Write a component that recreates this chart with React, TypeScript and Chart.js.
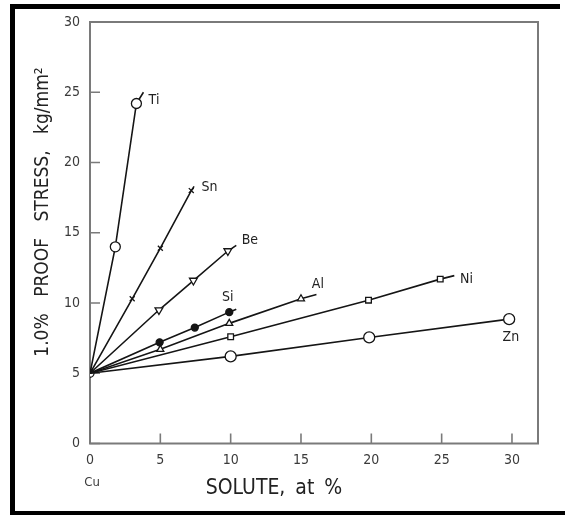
import React, { useEffect, useRef } from 'react';
import { Chart, registerables } from 'chart.js';

Chart.register(...registerables);

// ---- data ----
const xTickValues = [0, 5, 10, 15, 20, 25, 30];
const yTickValues = [0, 5, 10, 15, 20, 25, 30];

const origin = { x: 0, y: 5 }; // pure Cu

const tiX = [1.8, 3.3];
const tiY = [14.0, 24.2];
const tiTail = [3.8, 25.0];

const snX = [3.0, 5.0, 7.2];
const snY = [10.3, 13.9, 18.0];
const snTail = [7.4, 18.3];

const beX = [4.9, 7.35, 9.8];
const beY = [9.5, 11.6, 13.7];
const beTail = [10.4, 14.1];

const siX = [4.95, 7.45, 9.9];
const siY = [7.2, 8.25, 9.35];
const siTail = [10.4, 9.55];

const alX = [5.0, 9.9, 15.0];
const alY = [6.7, 8.55, 10.3];
const alTail = [16.1, 10.6];

const niX = [10.0, 19.8, 24.9];
const niY = [7.6, 10.2, 11.7];
const niTail = [25.9, 11.95];

const znX = [10.0, 19.85, 29.8];
const znY = [6.2, 7.55, 8.85];

const labelText = ['Ti', 'Sn', 'Be', 'Si', 'Al', 'Ni', 'Zn'];
const labelX = [4.55, 8.5, 11.37, 9.8, 16.2, 26.77, 29.92];
const labelY = [24.4, 18.25, 14.46, 10.43, 11.35, 11.69, 7.57];

const xTitle = 'SOLUTE, at %';
const yTitle = '1.0% PROOF STRESS, kg/mm\u00B2';
const baseLabel = 'Cu';

// ---- styles ----
const FONT = "'DejaVu Sans Condensed', 'Liberation Sans Narrow', 'DejaVu Sans', sans-serif";
const INK = '#151515';
const AXIS = '#7a7a7a';
const TEXT = '#3a3a3a';

function buildSeries(xs: number[], ys: number[], tail: number[] | null) {
  const pts = [{ x: origin.x, y: origin.y }];
  xs.forEach((x, i) => pts.push({ x, y: ys[i] }));
  if (tail) pts.push({ x: tail[0], y: tail[1] });
  return pts;
}

function radii(n: number, r: number, hasTail: boolean) {
  const arr = [0];
  for (let i = 0; i < n; i++) arr.push(r);
  if (hasTail) arr.push(0);
  return arr;
}

const overlayPlugin = {
  id: 'overlay',
  beforeDatasetsDraw(chart: any) {
    const { ctx, chartArea } = chart;
    const xs = chart.scales.x;
    const ys = chart.scales.y;
    ctx.save();
    ctx.strokeStyle = AXIS;
    ctx.lineWidth = 2;
    ctx.strokeRect(chartArea.left, chartArea.top, chartArea.right - chartArea.left, chartArea.bottom - chartArea.top);
    ctx.lineWidth = 1.6;
    ctx.beginPath();
    xTickValues.forEach((v) => {
      const px = xs.getPixelForValue(v);
      ctx.moveTo(px, chartArea.bottom);
      ctx.lineTo(px, chartArea.bottom - 10);
    });
    yTickValues.forEach((v) => {
      const py = ys.getPixelForValue(v);
      ctx.moveTo(chartArea.left, py);
      ctx.lineTo(chartArea.left + 10, py);
    });
    ctx.stroke();
    ctx.restore();
  },
  afterDatasetsDraw(chart: any) {
    const { ctx } = chart;
    const xs = chart.scales.x;
    const ys = chart.scales.y;
    ctx.save();
    ctx.fillStyle = '#222';
    ctx.font = `14px ${FONT}`;
    ctx.textAlign = 'center';
    ctx.textBaseline = 'middle';
    labelText.forEach((t, i) => {
      ctx.fillText(t, xs.getPixelForValue(labelX[i]), ys.getPixelForValue(labelY[i]));
    });
    ctx.restore();
  },
  afterDraw(chart: any) {
    const { ctx, chartArea } = chart;
    const xs = chart.scales.x;
    ctx.save();
    // outer black frame
    ctx.fillStyle = '#000';
    ctx.fillRect(10, 4, 550, 5);
    ctx.fillRect(10, 4, 5, 511);
    ctx.fillRect(10, 511, 555, 4);
    // base label under 0
    ctx.fillStyle = TEXT;
    ctx.font = `13px ${FONT}`;
    ctx.textAlign = 'center';
    ctx.textBaseline = 'middle';
    ctx.fillText(baseLabel, xs.getPixelForValue(0) + 2, chartArea.bottom + 39);
    // x title
    ctx.font = `21px ${FONT}`;
    ctx.fillStyle = '#222';
    (ctx as any).wordSpacing = '4px';
    ctx.fillText(xTitle, 274, 489);
    // y title
    ctx.translate(43, 212);
    ctx.rotate(-Math.PI / 2);
    ctx.font = `19px ${FONT}`;
    (ctx as any).wordSpacing = '11px';
    ctx.fillText(yTitle, 0, 0);
    ctx.restore();
  },
};

export default function App() {
  const ref = useRef<HTMLCanvasElement | null>(null);
  useEffect(() => {
    if (!ref.current) return;
    const common = {
      showLine: true,
      borderColor: INK,
      borderWidth: 1.6,
      pointBorderColor: INK,
      pointBorderWidth: 1.3,
    };
    const chart = new Chart(ref.current, {
      type: 'scatter',
      data: {
        datasets: [
          { ...common, label: 'Zn', data: buildSeries(znX, znY, null), pointStyle: 'circle', pointRadius: radii(znX.length, 5.5, false), pointBackgroundColor: '#fff' },
          { ...common, label: 'Ni', data: buildSeries(niX, niY, niTail), pointStyle: 'rect', pointRadius: radii(niX.length, 4, true), pointBackgroundColor: '#fff' },
          { ...common, label: 'Al', data: buildSeries(alX, alY, alTail), pointStyle: 'triangle', pointRadius: radii(alX.length, 4, true), pointBackgroundColor: '#fff' },
          { ...common, label: 'Si', data: buildSeries(siX, siY, siTail), pointStyle: 'circle', pointRadius: radii(siX.length, 3.5, true), pointBackgroundColor: INK },
          { ...common, label: 'Be', data: buildSeries(beX, beY, beTail), pointStyle: 'triangle', rotation: 180, pointRadius: radii(beX.length, 4.5, true), pointBackgroundColor: '#fff' },
          { ...common, label: 'Sn', data: buildSeries(snX, snY, snTail), pointStyle: 'crossRot', pointRadius: radii(snX.length, 3.5, true), pointBackgroundColor: '#fff' },
          { ...common, label: 'Ti', data: buildSeries(tiX, tiY, tiTail), pointStyle: 'circle', pointRadius: radii(tiX.length, 5, true), pointBackgroundColor: '#fff' },
          { ...common, label: 'Cu', data: [origin], showLine: false, pointStyle: 'circle', pointRadius: 4, pointBackgroundColor: '#fff' },
        ],
      },
      options: {
        responsive: false,
        animation: false,
        events: [],
        layout: { padding: { left: 0, top: 22, right: 27, bottom: 0 } },
        plugins: { legend: { display: false }, tooltip: { enabled: false }, title: { display: false } },
        scales: {
          x: {
            type: 'linear',
            min: 0,
            max: 31.85,
            afterFit: (s: any) => { s.height = 71.5; },
            afterBuildTicks: (s: any) => { s.ticks = xTickValues.map((v) => ({ value: v })); },
            grid: { display: false, drawTicks: false },
            border: { display: false },
            ticks: { color: TEXT, font: { family: FONT, size: 14 }, padding: 8, maxRotation: 0 },
          },
          y: {
            type: 'linear',
            min: 0,
            max: 30,
            afterFit: (s: any) => { s.width = 90; },
            afterBuildTicks: (s: any) => { s.ticks = yTickValues.map((v) => ({ value: v })); },
            grid: { display: false, drawTicks: false },
            border: { display: false },
            ticks: { color: TEXT, font: { family: FONT, size: 14 }, padding: 10 },
          },
        },
      },
      plugins: [overlayPlugin],
    } as any);
    return () => chart.destroy();
  }, []);
  return (
    <div style={{ position: 'absolute', left: 0, top: 0, width: 565, height: 515, background: '#fff' }}>
      <canvas ref={ref} width={565} height={515} style={{ display: 'block' }} />
    </div>
  );
}
